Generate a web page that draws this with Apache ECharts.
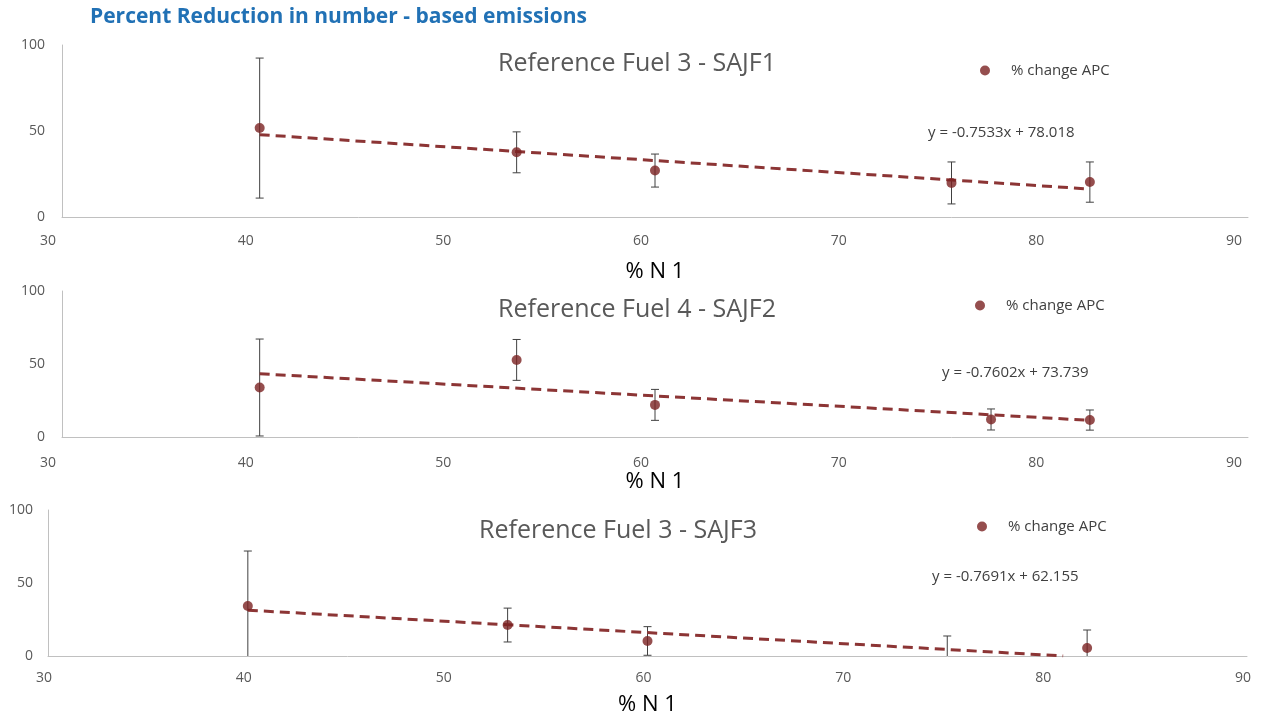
<!DOCTYPE html>
<html><head><meta charset="utf-8">
<script src="https://cdn.jsdelivr.net/npm/echarts@6/dist/echarts.min.js"></script>
<style>html,body{margin:0;padding:0;background:#fff}#c{width:1265px;height:719px}</style>
</head><body><div id="c"></div>
<script>
// ---- data ----
const mainTitle = 'Percent Reduction in number - based emissions';
const panelTitles = ['Reference Fuel 3 - SAJF1', 'Reference Fuel 4 - SAJF2', 'Reference Fuel 3 - SAJF3'];
const legendName = '% change APC';
const xAxisName = '% N 1';

const xValues1 = [40, 53, 60, 75, 82];
const yValues1 = [51.7, 37.6, 27.0, 19.8, 20.3];
const errors1  = [40.7, 11.9, 9.6, 12.2, 11.7];

const xValues2 = [40, 53, 60, 77, 82];
const yValues2 = [33.9, 52.8, 22.0, 12.0, 11.6];
const errors2  = [33.2, 14.0, 10.6, 7.2, 6.9];

const xValues3 = [40, 53, 60, 75, 82];
const yValues3 = [34.2, 21.2, 10.3, -1.0, 5.5];
const errors3  = [37.7, 11.6, 9.8, 14.7, 12.3];

const trendSlopes = [-0.7533, -0.7602, -0.7691];
const trendIntercepts = [78.018, 73.739, 62.155];
const trendXRanges = [[40, 82], [40, 82], [40, 80.8]];
const equationTexts = ['y = -0.7533x + 78.018', 'y = -0.7602x + 73.739', 'y = -0.7691x + 62.155'];

const xTicks = [30, 40, 50, 60, 70, 80, 90];
const yTicks = [0, 50, 100];

// ---- build ----
const xs = [xValues1, xValues2, xValues3];
const ys = [yValues1, yValues2, yValues3];
const es = [errors1, errors2, errors3];

const grids = [
  {left: 62, right: 17, top: 45, height: 172},
  {left: 62, right: 17, top: 291, height: 146},
  {left: 48, right: 18, top: 510, height: 146}
];
const labelShift = [28, 28, 8];
const labelMargins = [17, 19, 15];
const nameGaps = [44, 34, 38];
const yLabelMargins = [17, 17, 15];

const FONT = '"Open Sans", "Noto Sans", sans-serif';
const dotColor = '#7A2222';
const trendColor = '#8C3535';

const xAxes = grids.map((g, i) => ({
  type: 'value', gridIndex: i, min: xTicks[0], max: xTicks[xTicks.length - 1], interval: 10,
  axisLine: {show: true, lineStyle: {color: '#C0C0C0', width: 1}},
  axisTick: {show: false}, splitLine: {show: false},
  axisLabel: {color: '#595959', fontSize: 14, fontFamily: FONT, margin: labelMargins[i],
    padding: [0, labelShift[i], 0, 0]},
  name: xAxisName, nameLocation: 'middle', nameGap: nameGaps[i],
  nameTextStyle: {color: '#000', fontSize: 22, fontFamily: FONT}
}));
const yAxes = grids.map((g, i) => ({
  type: 'value', gridIndex: i, min: yTicks[0], max: yTicks[yTicks.length - 1], interval: 50,
  axisLine: {show: true, lineStyle: {color: '#C0C0C0', width: 1}},
  axisTick: {show: false}, splitLine: {show: false},
  axisLabel: {color: '#595959', fontSize: 14, fontFamily: FONT, margin: yLabelMargins[i]}
}));

const series = [];
for (let i = 0; i < 3; i++) {
  const pts = xs[i].map((x, k) => [x, ys[i][k]]);
  const errData = xs[i].map((x, k) => [x, ys[i][k] - es[i][k], ys[i][k] + es[i][k]]);
  const tx = trendXRanges[i];
  const trendData = tx.map(x => [x, trendSlopes[i] * x + trendIntercepts[i]]);
  series.push({
    type: 'custom', name: 'err' + i, xAxisIndex: i, yAxisIndex: i, data: errData, z: 2,
    renderItem: function (params, api) {
      const x = api.value(0);
      const lo = Math.max(0, api.value(1));
      const hi = Math.min(100, api.value(2));
      const pLo = api.coord([x, lo]);
      const pHi = api.coord([x, hi]);
      const w = 4;
      const st = {stroke: '#404040', lineWidth: 1};
      const children = [{type: 'line', shape: {x1: pLo[0], y1: pLo[1], x2: pHi[0], y2: pHi[1]}, style: st}];
      if (api.value(2) <= 100) children.push({type: 'line', shape: {x1: pHi[0] - w, y1: pHi[1], x2: pHi[0] + w, y2: pHi[1]}, style: st});
      if (api.value(1) >= 0) children.push({type: 'line', shape: {x1: pLo[0] - w, y1: pLo[1], x2: pLo[0] + w, y2: pLo[1]}, style: st});
      return {type: 'group', children: children};
    }
  });
  series.push({
    type: 'line', name: 'Linear' + i, xAxisIndex: i, yAxisIndex: i, data: trendData,
    showSymbol: false, symbol: 'none', silent: true, z: 3,
    lineStyle: {color: trendColor, width: 3, type: [10, 6]}
  });
  series.push({
    type: 'scatter', name: legendName, xAxisIndex: i, yAxisIndex: i, data: pts,
    symbol: 'circle', symbolSize: 10, itemStyle: {color: dotColor}, z: 4, clip: true
  });
}

const legendPos = [{left: 980, top: 63}, {left: 975, top: 298}, {left: 977, top: 519}];
const legends = legendPos.map(p => ({
  left: p.left, top: p.top, orient: 'horizontal', padding: 0,
  data: [{name: legendName, icon: 'circle'}],
  itemWidth: 10, itemHeight: 10, selectedMode: false,
  textStyle: {color: '#404040', fontSize: 15, fontFamily: FONT, padding: [0, 0, 0, 16]}
}));

const titleCenters = [[637, 64], [637, 310], [618, 531]];
const eqPos = [[928, 133], [942, 373], [932, 577]];
const graphics = [];
graphics.push({type: 'text', left: 90, top: 7, style: {text: mainTitle, fill: '#2171B5',
  font: 'bold 21px ' + FONT}});
for (let i = 0; i < 3; i++) {
  graphics.push({type: 'text', x: titleCenters[i][0], y: titleCenters[i][1], style: {
    text: panelTitles[i], fill: '#595959', font: '25px ' + FONT, textAlign: 'center', textVerticalAlign: 'middle'}});
  graphics.push({type: 'text', x: eqPos[i][0], y: eqPos[i][1], style: {
    text: equationTexts[i], fill: '#404040', font: '15px ' + FONT, textAlign: 'left', textVerticalAlign: 'middle'}});
}

const chart = echarts.init(document.getElementById('c'), null, {renderer: 'canvas'});
chart.setOption({
  backgroundColor: '#ffffff',
  animation: false,
  grid: grids,
  xAxis: xAxes,
  yAxis: yAxes,
  legend: legends,
  series: series,
  graphic: graphics
});
</script></body></html>
